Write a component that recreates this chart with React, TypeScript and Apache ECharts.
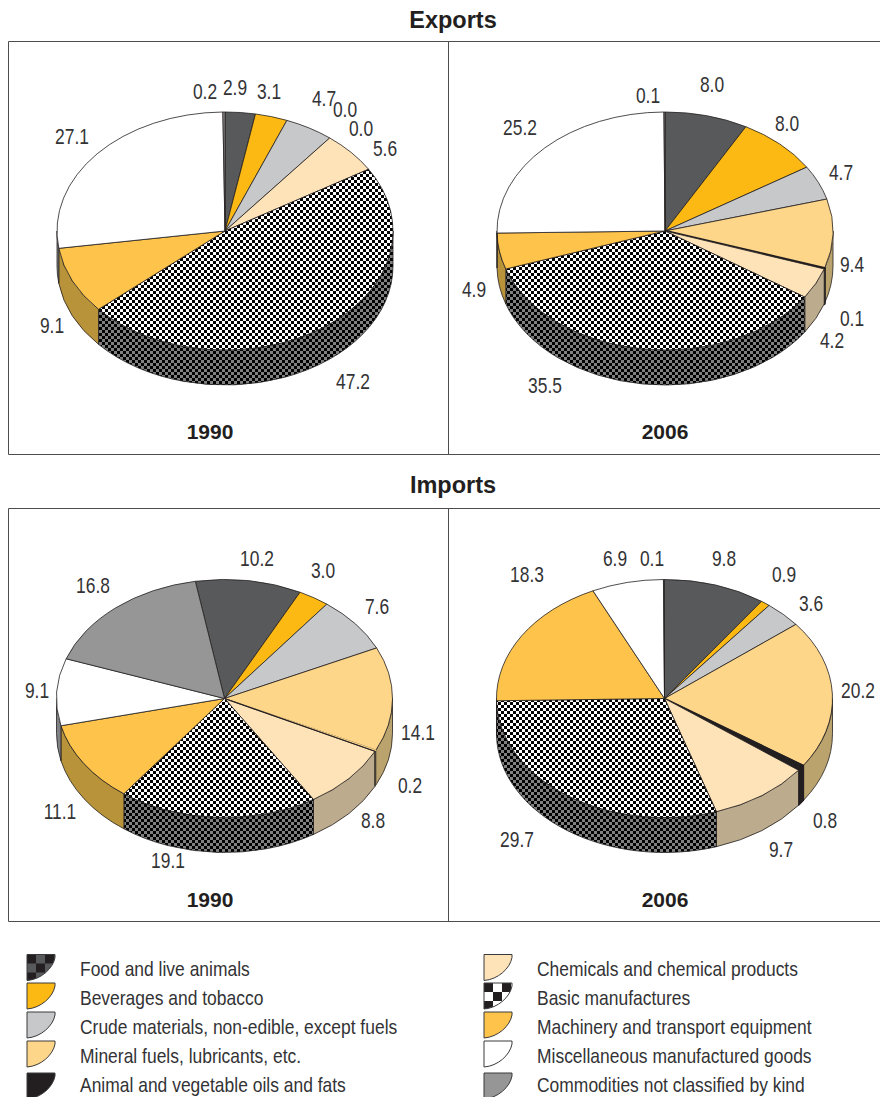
import React, { useEffect, useRef } from "react";
import * as echarts from "echarts";

const categories = [
  "Food and live animals",
  "Beverages and tobacco",
  "Crude materials, non-edible, except fuels",
  "Mineral fuels, lubricants, etc.",
  "Animal and vegetable oils and fats",
  "Chemicals and chemical products",
  "Basic manufactures",
  "Machinery and transport equipment",
  "Miscellaneous manufactured goods",
  "Commodities not classified by kind",
];
const exports1990 = [2.9, 3.1, 4.7, 0.0, 0.0, 5.6, 47.2, 9.1, 27.1, 0.2];
const exports2006 = [8.0, 8.0, 4.7, 9.4, 0.1, 4.2, 35.5, 4.9, 25.2, 0.1];
const imports1990 = [10.2, 3.0, 7.6, 14.1, 0.2, 8.8, 19.1, 11.1, 9.1, 16.8];
const imports2006 = [9.8, 0.9, 3.6, 20.2, 0.8, 9.7, 29.7, 18.3, 6.9, 0.1];
const panelValues = [exports1990, exports2006, imports1990, imports2006];

// Layout only
const pieCentres = [[225, 231], [665, 231], [224.5, 698.5], [664.5, 698.5]];
const startAngles = [0, 0, -10, 0];
const RX = 168, RY = 119, DEPTH = 35;
const labelPositions = [
  [[235, 87], [269, 91], [324, 98], [345, 109], [361, 128], [385, 148], [353, 381], [52, 325], [72, 136], [205, 91]],
  [[712, 84], [787, 123], [841, 172], [852, 264], [852, 318], [832, 340], [545, 385], [474, 289], [520, 127], [648, 95]],
  [[257, 558], [323, 570], [377, 606], [418, 732], [410, 785], [373, 820], [168, 860], [60, 811], [37, 690], [93, 585]],
  [[724, 558], [784, 574], [811, 603], [858, 690], [825, 820], [781, 849], [517, 839], [527, 574], [615, 558], [652, 558]],
];
const legendColumns = [27, 484];
const legendIconTops = [954.5, 983, 1012, 1041, 1073];
const legendTextCentres = [969.5, 998.5, 1027, 1056, 1085];

const INK = "#231f20";
const FONT = '"Liberation Sans", Arial, sans-serif';
const TEXT = "#333335";

echarts.graphic.registerShape(
  "legendIcon",
  echarts.graphic.extendPath("M0 0L28 0L28 3C26 14 14 25 0 26Z", {}) as any
);

function checker(a: string, b: string, cell: number) {
  const c = document.createElement("canvas");
  c.width = cell * 2;
  c.height = cell * 2;
  const g = c.getContext("2d")!;
  g.fillStyle = a;
  g.fillRect(0, 0, cell * 2, cell * 2);
  g.fillStyle = b;
  g.fillRect(0, 0, cell, cell);
  g.fillRect(cell, cell, cell, cell);
  return { image: c, repeat: "repeat", imageWidth: cell * 2, imageHeight: cell * 2 };
}

export default function App() {
  const ref = useRef<HTMLDivElement>(null);
  useEffect(() => {
    document.body.style.margin = "0";
    const chart = echarts.init(ref.current!, null, { renderer: "svg", width: 880, height: 1097 });

    const basicTop = checker("#ffffff", "#000000", 3);
    const basicWall = checker("#808080", "#000000", 3);
    const topFills: any[] = ["#58595b", "#fdb913", "#c7c8ca", "#fed68a", INK, "#fee3b8", basicTop, "#fec34a", "#ffffff", "#969696"];
    const wallFills: any[] = ["#3b3b3d", "#a8840f", "#8a8b8d", "#bba36d", INK, "#bcab8c", basicWall, "#b9933a", "#808285", "#6a6a6a"];
    const legendFills: any[] = [
      checker("#58595b", INK, 9), "#fdb913", "#c7c8ca", "#fed68a", INK,
      "#fee3b8", checker("#ffffff", INK, 9), "#fec34a", "#ffffff", "#969696",
    ];

    const pt = (cx: number, cy: number, deg: number) => {
      const r = (deg * Math.PI) / 180;
      return [cx + RX * Math.sin(r), cy - RY * Math.cos(r)];
    };

    const makeRender = (cat: number) => (_p: any, api: any) => {
      const panel = api.value(0) as number;
      const value = api.value(1) as number;
      const vals = panelValues[panel];
      const total = vals.reduce((s, v) => s + v, 0);
      const before = vals.slice(0, cat).reduce((s, v) => s + v, 0);
      const a0 = startAngles[panel] + (before / total) * 360;
      const a1 = a0 + (value / total) * 360;
      const [cx, cy] = pieCentres[panel];
      const children: any[] = [];
      let lw = 0.8;
      if (cat === 4) lw = panel === 1 ? 2.6 : panel === 2 ? 0.8 : 1.4;
      // The 0.2 oils sliver of Imports 1990 shows in the reference only as a
      // single outline, so it takes the colours of the slice beside it and the
      // next slice's start edge is strengthened.
      const hairline = cat === 4 && panel === 2;
      const afterHairline = cat === 5 && panel === 2;
      const topFill = hairline ? topFills[3] : topFills[cat];
      const wallFill = hairline ? wallFills[3] : wallFills[cat];
      if (value > 0) {
        for (const shift of [-360, 0, 360]) {
          const w0 = Math.max(a0, 90 + shift);
          const w1 = Math.min(a1, 270 + shift);
          if (w1 > w0) {
            const p0 = pt(cx, cy, w0);
            const p1 = pt(cx, cy, w1);
            children.push({
              type: "path",
              shape: {
                pathData: `M${p0[0]} ${p0[1]}A${RX} ${RY} 0 0 1 ${p1[0]} ${p1[1]}L${p1[0]} ${p1[1] + DEPTH}A${RX} ${RY} 0 0 0 ${p0[0]} ${p0[1] + DEPTH}Z`,
              },
              style: { fill: wallFill, stroke: hairline ? wallFill : INK, lineWidth: lw, lineJoin: "round" },
            });
          }
        }
        const s = pt(cx, cy, a0);
        const e = pt(cx, cy, a1);
        const large = a1 - a0 > 180 ? 1 : 0;
        children.push({
          type: "path",
          shape: { pathData: `M${cx} ${cy}L${s[0]} ${s[1]}A${RX} ${RY} 0 ${large} 1 ${e[0]} ${e[1]}Z` },
          style: { fill: topFill, stroke: hairline ? topFill : INK, lineWidth: lw, lineJoin: "round" },
        });
        if (afterHairline) {
          children.push({
            type: "polyline",
            shape: { points: [[cx, cy], s, [s[0], s[1] + DEPTH]] },
            style: { fill: "none", stroke: INK, lineWidth: 1.1 },
          });
        }
      }
      const [lx, ly] = labelPositions[panel][cat];
      children.push({
        type: "text",
        x: lx,
        y: ly,
        scaleX: 0.79,
        style: {
          text: value.toFixed(1),
          fill: TEXT,
          fontFamily: FONT,
          fontSize: 22,
          align: "center",
          verticalAlign: "middle",
        },
      });
      return { type: "group", children };
    };

    const series = categories.map((name, cat) => ({
      type: "custom",
      name,
      coordinateSystem: "none",
      silent: true,
      clip: false,
      renderItem: makeRender(cat),
      data: panelValues.map((vals, panel) => [panel, vals[cat]]),
    }));

    const legendItems: any[] = [];
    categories.forEach((name, i) => {
      const col = i < 5 ? 0 : 1;
      const row = i % 5;
      const left = legendColumns[col];
      legendItems.push({
        type: "legendIcon",
        x: left,
        y: legendIconTops[row],
        style: { fill: legendFills[i], stroke: "#3a3a3c", lineWidth: 1 },
        silent: true,
      });
      legendItems.push({
        type: "text",
        x: left + 53,
        y: legendTextCentres[row],
        scaleX: 0.873,
        style: { text: name, fill: TEXT, fontFamily: FONT, fontSize: 20, align: "left", verticalAlign: "middle" },
        silent: true,
      });
    });

    const heading = (text: string, x: number, y: number, size: number) => ({
      text,
      left: x,
      top: y,
      padding: 0,
      textAlign: "center",
      textVerticalAlign: "middle",
      textStyle: { fontFamily: FONT, fontWeight: "bold", fontSize: size, color: INK },
    });

    const frame = (y0: number, y1: number) => [
      { type: "rect", shape: { x: 8.5, y: y0 + 0.5, width: 880, height: y1 - y0 }, style: { fill: "none", stroke: "#4d4d4f", lineWidth: 1 }, silent: true },
      { type: "line", shape: { x1: 448.5, y1: y0, x2: 448.5, y2: y1 }, style: { stroke: "#4d4d4f", lineWidth: 1 }, silent: true },
    ];

    chart.setOption({
      animation: false,
      title: [
        heading("Exports", 453, 20, 23.5),
        heading("Imports", 453, 485, 23.5),
        heading("1990", 210, 431, 21),
        heading("2006", 665, 431, 21),
        heading("1990", 210, 899, 21),
        heading("2006", 665, 899, 21),
      ],
      graphic: [...frame(41, 454), ...frame(508, 921), ...legendItems],
      series,
    });
    return () => chart.dispose();
  }, []);
  return <div ref={ref} style={{ position: "absolute", left: 0, top: 0, width: 880, height: 1097 }} />;
}
